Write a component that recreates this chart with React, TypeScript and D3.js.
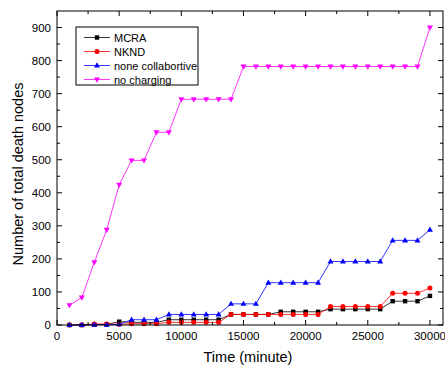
import React from "react";
import * as d3 from "d3";

const times = [1000,2000,3000,4000,5000,6000,7000,8000,9000,10000,11000,12000,13000,14000,15000,16000,17000,18000,19000,20000,21000,22000,23000,24000,25000,26000,27000,28000,29000,30000];
const mcra = [0,0,1,2,10,8,8,8,16,16,16,16,16,32,32,32,32,40,40,40,40,48,48,48,48,48,72,72,72,88];
const nknd = [0,0,3,3,2,4,4,4,8,8,8,8,8,32,32,32,32,32,32,32,32,56,56,56,56,56,96,96,96,112];
const noneCollab = [0,0,1,1,2,16,16,16,32,32,32,32,32,64,64,64,128,128,128,128,128,192,192,192,192,192,256,256,256,288];
const noCharging = [60,83,190,288,424,498,498,583,583,683,683,683,683,683,782,782,782,782,782,782,782,782,782,782,782,782,782,782,782,900];

const seriesNames = ["MCRA", "NKND", "none collabortive", "no charging"];
const seriesColors = ["#000000", "#ff0000", "#0000ff", "#ff00ff"];
const seriesShapes = ["square", "circle", "triangleUp", "triangleDown"];
const seriesValues = [mcra, nknd, noneCollab, noCharging];

const xTicks = [0, 5000, 10000, 15000, 20000, 25000, 30000];
const yTicks = [0, 100, 200, 300, 400, 500, 600, 700, 800, 900];

const W = 445, H = 366;
const L = 57, R = 443, T = 11, B = 325;

function Marker({ shape, x, y, color }: { shape: string; x: number; y: number; color: string }) {
  if (shape === "square") return <rect x={x - 2.2} y={y - 2.2} width={4.4} height={4.4} fill={color} />;
  if (shape === "circle") return <circle cx={x} cy={y} r={2.5} fill={color} />;
  if (shape === "triangleUp") return <path d={`M${x},${y - 3.2}L${x + 3},${y + 2}L${x - 3},${y + 2}Z`} fill={color} />;
  return <path d={`M${x},${y + 3.2}L${x + 3},${y - 2}L${x - 3},${y - 2}Z`} fill={color} />;
}

export default function App() {
  const x = d3.scaleLinear().domain([0, 31050]).range([L, R]);
  const y = d3.scaleLinear().domain([0, 950]).range([B, T]);
  const line = d3.line<[number, number]>().x(d => x(d[0])).y(d => y(d[1]));
  const font = "'Liberation Sans', Arial, sans-serif";

  const xMinor = d3.range(0, 31001, 2500).filter(v => v % 5000 !== 0);
  const yMinor = d3.range(50, 950, 100);

  return (
    <svg width={W} height={H} style={{ position: "absolute", left: 0, top: 0, background: "#fff" }} fontFamily={font}>
      <rect x={0} y={0} width={W} height={H} fill="#fff" />
      {seriesValues.map((vals, si) => (
        <g key={si}>
          <path d={line(times.map((t, i) => [t, vals[i]]) as [number, number][]) || ""} fill="none" stroke={seriesColors[si]} strokeWidth={0.8} />
          {times.map((t, i) => (
            <Marker key={i} shape={seriesShapes[si]} x={x(t)} y={y(vals[i])} color={seriesColors[si]} />
          ))}
        </g>
      ))}
      {/* frame */}
      <rect x={L} y={T} width={R - L} height={B - T} fill="none" stroke="#000" strokeWidth={1} />
      {/* x ticks */}
      {xTicks.map(v => (
        <g key={v}>
          <line x1={x(v)} x2={x(v)} y1={B} y2={B - 5} stroke="#000" />
          <line x1={x(v)} x2={x(v)} y1={T} y2={T + 5} stroke="#000" />
          <text x={x(v)} y={340} textAnchor="middle" fontSize={11.5}>{v}</text>
        </g>
      ))}
      {xMinor.map(v => (
        <g key={v}>
          <line x1={x(v)} x2={x(v)} y1={B} y2={B - 3} stroke="#000" />
          <line x1={x(v)} x2={x(v)} y1={T} y2={T + 3} stroke="#000" />
        </g>
      ))}
      {yTicks.map(v => (
        <g key={v}>
          <line x1={L} x2={L + 5} y1={y(v)} y2={y(v)} stroke="#000" />
          <line x1={R} x2={R - 5} y1={y(v)} y2={y(v)} stroke="#000" />
          <text x={L - 6} y={y(v) + 4} textAnchor="end" fontSize={11.5}>{v}</text>
        </g>
      ))}
      {yMinor.map(v => (
        <g key={v}>
          <line x1={L} x2={L + 3} y1={y(v)} y2={y(v)} stroke="#000" />
          <line x1={R} x2={R - 3} y1={y(v)} y2={y(v)} stroke="#000" />
        </g>
      ))}
      <text x={248} y={362} textAnchor="middle" fontSize={14.5}>Time (minute)</text>
      <text transform={`translate(23,174) rotate(-90)`} textAnchor="middle" fontSize={14.5}>Number of total death nodes</text>
      {/* legend */}
      <rect x={76} y={27} width={122} height={58} fill="#fff" stroke="#000" strokeWidth={1} />
      {seriesNames.map((n, i) => {
        const ly = 37.5 + i * 14;
        return (
          <g key={n}>
            <line x1={84} x2={110} y1={ly} y2={ly} stroke={seriesColors[i]} strokeWidth={0.8} />
            <Marker shape={seriesShapes[i]} x={97} y={ly} color={seriesColors[i]} />
            <text x={114} y={ly + 4} fontSize={11}>{n}</text>
          </g>
        );
      })}
    </svg>
  );
}
